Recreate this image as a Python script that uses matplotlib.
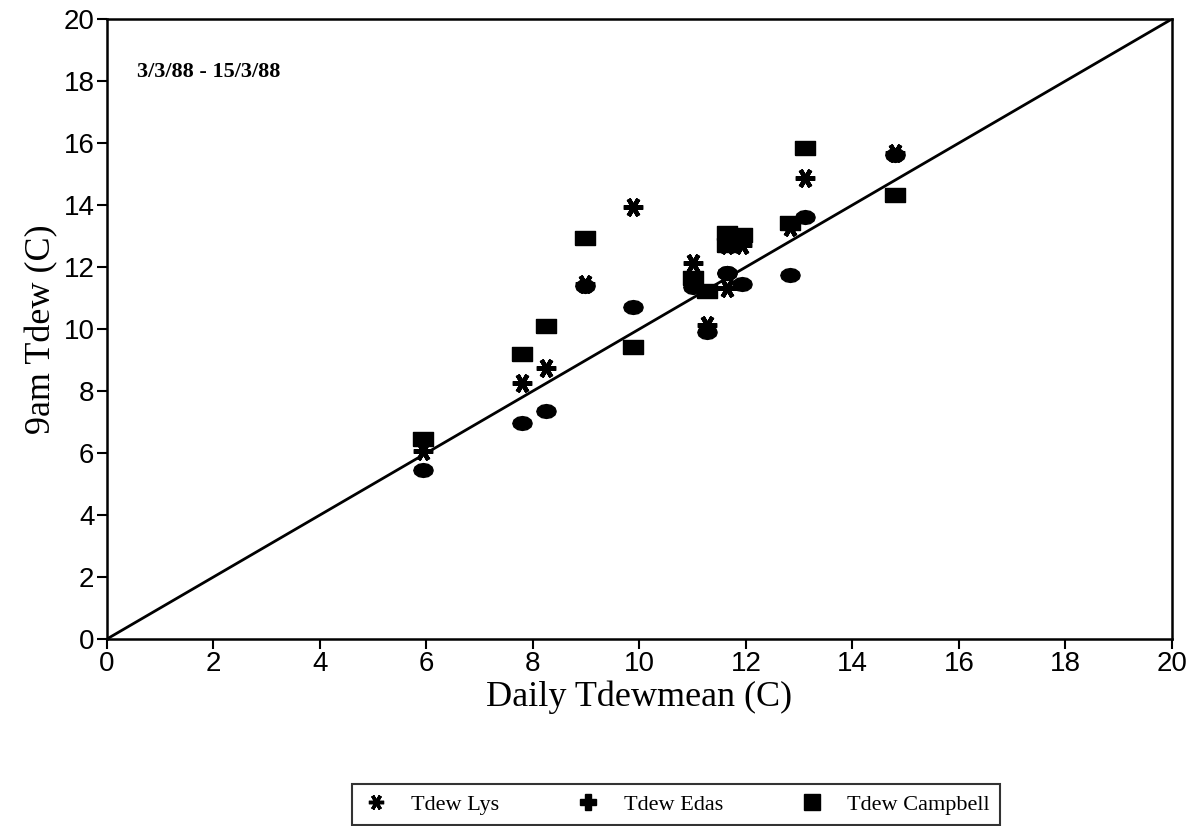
import matplotlib
matplotlib.use("Agg")
import matplotlib.pyplot as plt
from matplotlib.lines import Line2D

# Daily mean dew point (x) and 9am dew point by method (y), 3/3/88 - 15/3/88
tdew_mean = [5.93, 7.8, 8.24, 8.98, 9.87, 11.0, 11.26, 11.64, 11.64, 11.92, 12.83, 13.11, 14.8]
tdew_lys = [6.05, 8.25, 8.73, 11.45, 13.95, 12.14, 10.13, 11.31, 12.71, 12.71, 13.3, 14.86, 15.67]
tdew_edas = [5.45, 6.98, 7.36, 11.4, 10.72, 11.36, 9.91, 11.8, 11.8, 11.44, 11.74, 13.6, 15.6]
tdew_campbell = [6.45, 9.19, 10.1, 12.93, 9.41, 11.64, 11.23, 13.09, 12.71, 13.03, 13.41, 15.83, 14.32]

serif = "Liberation Serif"
sans = "Liberation Sans"

fig = plt.figure(figsize=(12.03, 8.26), dpi=100)
ax = fig.add_axes([0.0889, 0.2264, 0.8853, 0.7506])

# markers: wide block, oval blob, asterisk
block = [(-1.35, -1), (1.35, -1), (1.35, 1), (-1.35, 1), (-1.35, -1)]
oval = [(1.4 * c, 1.0 * s) for c, s in
        [(1, 0), (0.87, 0.5), (0.5, 0.87), (0, 1), (-0.5, 0.87), (-0.87, 0.5),
         (-1, 0), (-0.87, -0.5), (-0.5, -0.87), (0, -1), (0.5, -0.87), (0.87, -0.5), (1, 0)]]
ax.plot(tdew_mean, tdew_campbell, linestyle="none", marker=block, markersize=14,
        color="black", zorder=3)
ax.plot(tdew_mean, tdew_edas, linestyle="none", marker=oval, markersize=14,
        color="black", zorder=3)
ax.plot(tdew_mean, tdew_lys, linestyle="none", marker=(6, 2, 90), markersize=14,
        markeredgewidth=3.2, color="black", zorder=4)

ax.plot([0, 20], [0, 20], color="black", linewidth=2)

ax.set_xlim(0, 20)
ax.set_ylim(0, 20)
ax.set_xticks(range(0, 21, 2))
ax.set_yticks(range(0, 21, 2))
ax.tick_params(direction="out", length=7, width=1.5, labelsize=20, pad=2)
for lab in ax.get_xticklabels() + ax.get_yticklabels():
    lab.set_fontfamily(sans)
for s in ax.spines.values():
    s.set_linewidth(1.8)

ax.set_xlabel("Daily Tdewmean (C)", fontfamily=serif, fontsize=26, labelpad=2)
ax.set_ylabel("9am Tdew (C)", fontfamily=serif, fontsize=26, labelpad=4)

ax.text(0.56, 18.3, "3/3/88 - 15/3/88", fontfamily=serif, fontsize=16,
        fontweight="bold", va="center")

handles = [
    Line2D([], [], linestyle="none", marker=(6, 2, 90), markersize=11,
           markeredgewidth=2.5, color="black"),
    Line2D([], [], linestyle="none", marker="P", markersize=12, color="black"),
    Line2D([], [], linestyle="none", marker="s", markersize=12, color="black"),
]
leg = fig.legend(handles, ["Tdew Lys", "Tdew Edas", "Tdew Campbell"],
                 loc="center", bbox_to_anchor=(0.562, 0.026), ncol=3,
                 frameon=True, fancybox=False, edgecolor="black",
                 prop={"family": serif, "size": 16}, columnspacing=3.4,
                 handletextpad=1.0, borderpad=0.45, handlelength=1.2,
                 borderaxespad=0)
leg.get_frame().set_linewidth(1.5)

fig.savefig("out.png", dpi=100, facecolor="white")
